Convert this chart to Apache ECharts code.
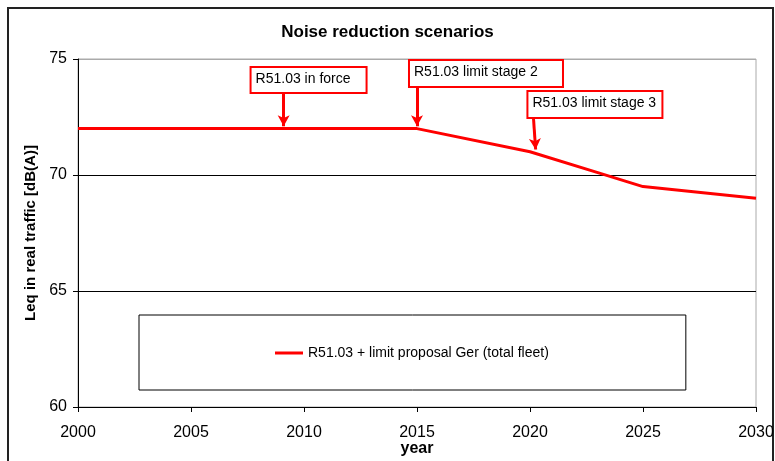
<!DOCTYPE html>
<html>
<head>
<meta charset="utf-8">
<script src="https://cdn.jsdelivr.net/npm/echarts@6/dist/echarts.min.js"></script>
<style>html,body{margin:0;padding:0;background:#fff}#c{width:775px;height:461px}</style>
</head>
<body>
<div id="c"></div>
<script>
var years = [2000, 2015, 2020, 2023, 2025, 2030];
var leq = [72, 72, 71.0, 70.1, 69.5, 69.0];
var seriesName = 'R51.03 + limit proposal Ger (total fleet)';
var xTicks = [2000, 2030, 5];
var yTicks = [60, 75, 5];
// annotations: label text, box top-left corner [year, value], arrow start / end [year, value]
var noteTexts = ['R51.03 in force', 'R51.03 limit stage 2', 'R51.03 limit stage 3'];
var noteBoxAt = [[2007.68, 74.61], [2014.69, 74.91], [2019.93, 73.58]];
var noteArrowFrom = [[2009.1, 73.58], [2015.0, 73.84], [2020.15, 72.5]];
var noteArrowTo = [[2009.1, 72.1], [2015.0, 72.1], [2020.25, 71.1]];
var noteBoxSize = [[114, 24], [152, 25], [133, 25]];

var FONT = '"Liberation Sans", Arial, sans-serif';
var chart = echarts.init(document.getElementById('c'), null, {renderer: 'canvas'});

var markPts = noteTexts.map(function (t, i) {
  var w = noteBoxSize[i][0], h = noteBoxSize[i][1];
  return {
    coord: noteBoxAt[i],
    symbol: 'circle',
    symbolSize: 0,
    itemStyle: {color: 'rgba(0,0,0,0)'},
    label: {show: true, formatter: t, position: 'inside', align: 'left', verticalAlign: 'top',
      width: w - 7, height: h - 5, padding: [3, 3, 2, 4], lineHeight: 16,
      backgroundColor: '#fff', borderColor: '#ff0000', borderWidth: 2,
      color: '#000', fontSize: 14, fontFamily: FONT}
  };
});
var markLns = noteTexts.map(function (t, i) {
  return [{coord: noteArrowFrom[i]}, {coord: noteArrowTo[i]}];
});

chart.setOption({
  animation: false,
  backgroundColor: '#fff',
  title: {
    text: 'Noise reduction scenarios', left: 'center', top: 24, padding: 0,
    textStyle: {fontFamily: FONT, fontSize: 17, fontWeight: 'bold', color: '#000'}
  },
  grid: {left: 78, right: 19, top: 59, bottom: 54, show: true, borderColor: '#aaa', borderWidth: 1,
    containLabel: false, outerBoundsMode: 'none'},
  legend: {
    data: [{name: seriesName, icon: 'rect'}],
    left: 139, top: 315,
    padding: [31, 137, 30, 136],
    borderColor: '#000', borderWidth: 1,
    itemWidth: 28, itemHeight: 3, itemGap: 0,
    textStyle: {fontFamily: FONT, fontSize: 14, color: '#000'}
  },
  xAxis: {
    type: 'value', min: xTicks[0], max: xTicks[1], interval: xTicks[2],
    name: 'year', nameLocation: 'middle', nameGap: 34, nameMoveOverlap: false,
    nameTextStyle: {fontFamily: FONT, fontSize: 16, fontWeight: 'bold', color: '#000'},
    axisLine: {show: true, lineStyle: {color: '#000', width: 1}},
    axisTick: {show: true, length: 5, lineStyle: {color: '#000'}},
    axisLabel: {margin: 18, fontFamily: FONT, fontSize: 16, color: '#000',
      formatter: function (v) { return String(v); }},
    splitLine: {show: false}
  },
  yAxis: {
    type: 'value', min: yTicks[0], max: yTicks[1], interval: yTicks[2],
    name: 'Leq in real traffic [dB(A)]', nameLocation: 'middle', nameGap: 40, nameRotate: 90,
    nameMoveOverlap: false,
    nameTextStyle: {fontFamily: FONT, fontSize: 15, fontWeight: 'bold', color: '#000'},
    axisLine: {show: true, lineStyle: {color: '#000', width: 1}},
    axisTick: {show: true, length: 5, lineStyle: {color: '#000'}},
    axisLabel: {margin: 11, fontFamily: FONT, fontSize: 16, color: '#000'},
    splitLine: {show: true, lineStyle: {color: ['#000', '#000', '#000', '#aaa'], width: 1}}
  },
  series: [{
    name: seriesName,
    type: 'line',
    data: years.map(function (y, i) { return [y, leq[i]]; }),
    symbol: 'none',
    lineStyle: {color: '#ff0000', width: 3},
    itemStyle: {color: '#ff0000'},
    markLine: {
      silent: true, animation: false,
      symbol: ['none', 'arrow'], symbolSize: [9, 11],
      lineStyle: {color: '#ff0000', width: 3, type: 'solid'},
      label: {show: false},
      emphasis: {disabled: true},
      data: markLns
    },
    markPoint: {
      silent: true, animation: false,
      data: markPts
    }
  }],
  graphic: [{
    type: 'polyline', silent: true,
    shape: {points: [[8, 470], [8, 8], [773, 8], [773, 470]]},
    style: {stroke: '#222', lineWidth: 2, fill: null}
  }]
});
</script>
</body>
</html>
